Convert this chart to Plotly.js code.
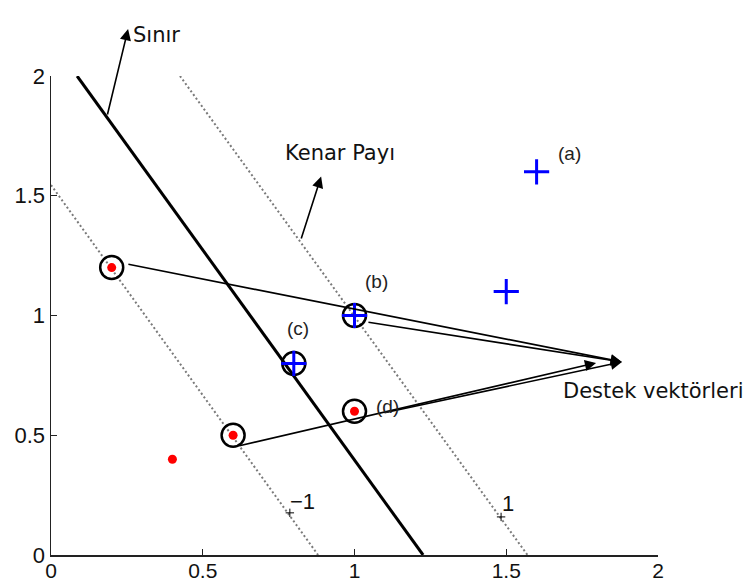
<!DOCTYPE html>
<html>
<head>
<meta charset="utf-8">
<script src="https://cdn.plot.ly/plotly-3.0.1.min.js"></script>
<style>html,body{margin:0;padding:0;background:#fff;}#chart{width:751px;height:585px;}</style>
</head>
<body>
<div id="chart"></div>
<script>
// ---- data ----
var negX = [0.2, 0.6, 1.0, 0.4];
var negY = [1.2, 0.5, 0.6, 0.4];
var posX = [1.6, 1.5, 1.0, 0.8];
var posY = [1.6, 1.1, 1.0, 0.8];
var svX = [0.2, 0.6, 1.0, 1.0, 0.8];
var svY = [1.2, 0.5, 0.6, 1.0, 0.8];
var refX = [0.787, 1.483];
var refY = [0.176, 0.159];
var boundaryX = [0.086, 1.226];
var boundaryY = [2, 0];
var marginNegX = [0, 0.88];
var marginNegY = [1.545, 0];
var marginPosX = [0.425, 1.57];
var marginPosY = [2, 0];
var tickVals = [0, 0.5, 1, 1.5, 2];
var tickLabels = ['0', '0.5', '1', '1.5', '2'];

var traces = [
  {x: marginNegX, y: marginNegY, mode: 'lines', line: {color: '#7a7a7a', width: 2, dash: '2px,2.5px'}, hoverinfo: 'skip'},
  {x: marginPosX, y: marginPosY, mode: 'lines', line: {color: '#7a7a7a', width: 2, dash: '2px,2.5px'}, hoverinfo: 'skip'},
  {x: boundaryX, y: boundaryY, mode: 'lines', line: {color: '#000', width: 3}, hoverinfo: 'skip'},
  {x: svX, y: svY, mode: 'markers', marker: {symbol: 'circle-open', size: 23, color: '#000', line: {color: '#000', width: 2.5}}},
  {x: negX, y: negY, mode: 'markers', marker: {symbol: 'circle', size: 9, color: '#ff0000', line: {width: 0}}},
  {x: posX, y: posY, mode: 'markers', marker: {symbol: 'cross-thin-open', size: 18, color: '#0000ff', line: {color: '#0000ff', width: 3}}},
  {x: refX, y: refY, mode: 'markers', marker: {symbol: 'cross-thin-open', size: 6, color: '#000', line: {color: '#000', width: 1}}}
];

var labFont = {family: 'Liberation Sans, Arial, sans-serif', size: 19, color: '#222'};
var bigFont = {family: 'DejaVu Sans, sans-serif', size: 21, color: '#111'};
var numFont = {family: 'Liberation Sans, Arial, sans-serif', size: 22, color: '#111'};

function arrowData(hx, hy, tx, ty) {
  return {x: hx, y: hy, ax: tx, ay: ty, xref: 'x', yref: 'y', axref: 'x', ayref: 'y',
          text: '', showarrow: true, arrowhead: 2, arrowsize: 1.4, arrowwidth: 1.6, arrowcolor: '#000', standoff: 0, startstandoff: 0};
}

var annotations = [
  {x: 0.132, y: 1.115, xref: 'paper', yref: 'paper', text: 'Sınır', showarrow: false, font: bigFont},
  {x: 0.127, y: 1.098, xref: 'paper', yref: 'paper', ax: -21, ay: 87, text: '', showarrow: true,
   arrowhead: 2, arrowsize: 1.4, arrowwidth: 1.6, arrowcolor: '#000', standoff: 0},
  {x: 0.952, y: 1.678, xref: 'x', yref: 'y', text: 'Kenar Payı', showarrow: false, font: bigFont},
  arrowData(0.890, 1.580, 0.823, 1.315),
  {x: 1.682, y: 0.685, xref: 'x', yref: 'y', xanchor: 'left', text: 'Destek vektörleri', showarrow: false, font: bigFont},
  arrowData(1.881, 0.806, 0.250, 1.215),
  arrowData(1.881, 0.806, 1.041, 0.973),
  arrowData(1.796, 0.802, 0.616, 0.455),
  arrowData(1.881, 0.806, 1.094, 0.593),
  {x: 1.710, y: 1.678, xref: 'x', yref: 'y', text: '(a)', showarrow: false, font: labFont},
  {x: 1.071, y: 1.140, xref: 'x', yref: 'y', text: '(b)', showarrow: false, font: labFont},
  {x: 0.814, y: 0.944, xref: 'x', yref: 'y', text: '(c)', showarrow: false, font: labFont},
  {x: 1.110, y: 0.622, xref: 'x', yref: 'y', text: '(d)', showarrow: false, font: labFont},
  {x: 0.830, y: 0.225, xref: 'x', yref: 'y', text: '−1', showarrow: false, font: numFont},
  {x: 1.506, y: 0.217, xref: 'x', yref: 'y', text: '1', showarrow: false, font: numFont}
];

var axisCommon = {
  range: [0, 2], showgrid: false, zeroline: false, showline: true, linecolor: '#222', linewidth: 1.5,
  ticks: 'inside', ticklen: 6, tickwidth: 1.2, tickcolor: '#222',
  tickmode: 'array', tickvals: tickVals, ticktext: tickLabels,
  automargin: false, fixedrange: true
};

var layout = {
  width: 751, height: 585,
  margin: {l: 51, r: 93, t: 76, b: 30, pad: 0},
  paper_bgcolor: '#fff', plot_bgcolor: '#fff',
  showlegend: false,
  xaxis: Object.assign({}, axisCommon, {
    tickfont: {family: 'Liberation Sans, Arial, sans-serif', size: 21, color: '#111'},
    ticklabelstandoff: -4
  }),
  yaxis: Object.assign({}, axisCommon, {
    tickfont: {family: 'Liberation Sans, Arial, sans-serif', size: 22, color: '#111'}
  }),
  annotations: annotations
};

Plotly.newPlot('chart', traces, layout, {displayModeBar: false, staticPlot: true});
</script>
</body>
</html>
